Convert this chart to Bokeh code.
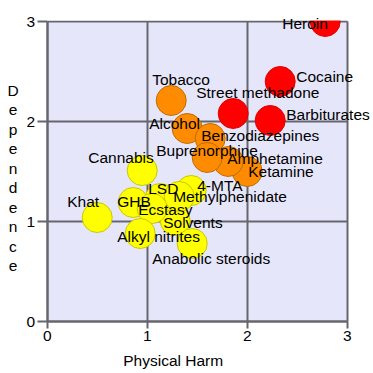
from bokeh.plotting import figure
from bokeh.models import Range1d, FixedTicker, Label, ColumnDataSource, BoxAnnotation
from bokeh.core.properties import value
from bokeh.embed import file_html
from bokeh.resources import INLINE

drugs = ["Heroin", "Cocaine", "Barbiturates", "Street methadone", "Alcohol",
         "Ketamine", "Benzodiazepines", "Amphetamine", "Tobacco", "Buprenorphine",
         "Cannabis", "Solvents", "4-MTA", "LSD", "Methylphenidate",
         "Anabolic steroids", "GHB", "Ecstasy", "Alkyl nitrites", "Khat"]
physical_harm = [2.78, 2.33, 2.23, 1.86, 1.40,
                 2.00, 1.63, 1.81, 1.24, 1.60,
                 0.95, 1.28, 1.44, 1.13, 1.32,
                 1.45, 0.86, 1.05, 0.93, 0.50]
dependence = [3.00, 2.40, 2.01, 2.08, 1.93,
              1.50, 1.83, 1.60, 2.21, 1.64,
              1.51, 1.01, 1.31, 1.23, 1.25,
              0.78, 1.19, 1.13, 0.88, 1.04]
harm_class = ["high", "high", "high", "high", "mid",
              "mid", "mid", "mid", "mid", "mid",
              "low", "low", "low", "low", "low",
              "low", "low", "low", "low", "low"]
ticks = [0, 1, 2, 3]
x_title = "Physical Harm"
y_title = "Dependence"

# styling (not data)
fill_map = {"high": "#FF0000", "mid": "#FF8C00", "low": "#FFFF00"}
line_map = {"high": "#E00000", "mid": "#C06A00", "low": "#C8C800"}
label_dx = {"Heroin": -43, "Cocaine": 16, "Barbiturates": 16, "Street methadone": -37,
            "Alcohol": -38, "Ketamine": 1, "Benzodiazepines": -9, "Amphetamine": -1,
            "Tobacco": -19, "Buprenorphine": -51, "Cannabis": -54, "Solvents": -12,
            "4-MTA": 6, "LSD": -12, "Methylphenidate": -6, "Anabolic steroids": -40,
            "GHB": -16, "Ecstasy": -14, "Alkyl nitrites": -23, "Khat": -30}
label_dy = {"Heroin": 2, "Cocaine": -5, "Barbiturates": -6, "Street methadone": -21,
            "Alcohol": -5, "Ketamine": 0, "Benzodiazepines": -3, "Amphetamine": -3,
            "Tobacco": -21, "Buprenorphine": -7, "Cannabis": -13, "Solvents": 2,
            "4-MTA": -5, "LSD": -10, "Methylphenidate": 0, "Anabolic steroids": 15,
            "GHB": -1, "Ecstasy": 1, "Alkyl nitrites": 3, "Khat": -16}

src = ColumnDataSource(dict(
    name=drugs, x=physical_harm, y=dependence,
    fill=[fill_map[c] for c in harm_class],
    line=[line_map[c] for c in harm_class],
    dx=[label_dx[d] for d in drugs],
    dy=[label_dy[d] for d in drugs],
))

GRAY = "#66666E"
FONT = "Liberation Sans"
FS = "15.5px"
lo, hi = ticks[0], ticks[-1]

# frame covers the whole canvas; 100 px per unit, plot box 0..3 placed as in the reference
p = figure(width=373, height=373,
           x_range=Range1d(-0.467, 3.263), y_range=Range1d(-0.52, 3.21),
           output_backend="svg", toolbar_location=None,
           min_border_left=0, min_border_right=0, min_border_top=0, min_border_bottom=0,
           background_fill_color="white", border_fill_color="white")
p.outline_line_color = None

# lavender plotting area
p.add_layout(BoxAnnotation(left=lo, right=hi, bottom=lo, top=hi,
                           fill_color="#E6E6FA", fill_alpha=1.0,
                           line_color=None, level="image"))

for ax in (p.xaxis[0], p.yaxis[0]):
    ax.ticker = FixedTicker(ticks=ticks)
    ax.fixed_location = 0
    ax.bounds = (lo, hi)
    ax.axis_line_color = GRAY
    ax.axis_line_width = 2
    ax.major_tick_line_color = GRAY
    ax.major_tick_line_width = 2
    ax.major_tick_in = 0
    ax.minor_tick_line_color = None
    ax.major_label_text_font = FONT
    ax.major_label_text_font_size = FS
    ax.major_label_text_color = "black"
p.xaxis.major_tick_out = 7
p.xaxis.major_label_standoff = 2
p.yaxis.major_tick_out = 10
p.yaxis.major_label_standoff = 2

use_grid = all("cross_bounds" in g.properties() for g in (p.xgrid[0], p.ygrid[0]))
for g in (p.xgrid[0], p.ygrid[0]):
    g.ticker = FixedTicker(ticks=ticks)
    if use_grid:
        g.cross_bounds = (lo, hi)
        g.bounds = (lo, hi)
        g.grid_line_color = GRAY
        g.grid_line_width = 2
    else:
        g.grid_line_color = None
if not use_grid:
    p.segment(x0=ticks, y0=[lo] * len(ticks), x1=ticks, y1=[hi] * len(ticks),
              line_color=GRAY, line_width=2, level="underlay")
    p.segment(x0=[lo] * len(ticks), y0=ticks, x1=[hi] * len(ticks), y1=ticks,
              line_color=GRAY, line_width=2, level="underlay")

p.scatter(x="x", y="y", size=30, fill_color="fill", line_color="line",
          line_width=1, source=src)

# clip the circles at the top edge of the plotting box, as in the reference
p.add_layout(BoxAnnotation(left=lo, right=hi, bottom=hi + 0.01, top=None,
                           fill_color="white", fill_alpha=1.0, line_color=None,
                           level="annotation"))

p.text(x="x", y="y", text="name", x_offset="dx", y_offset="dy",
       text_font=value(FONT), text_font_size=FS, text_color="black",
       text_align="left", text_baseline="alphabetic", source=src, level="overlay")

p.add_layout(Label(x=1.26, y=-0.39, text=x_title, text_align="center",
                   text_baseline="alphabetic", text_font=FONT, text_font_size=FS,
                   text_color="black"))
p.add_layout(Label(x=-0.342, y=2.40, text="\n".join(y_title), text_align="center",
                   text_baseline="top", text_font=FONT, text_font_size=FS,
                   text_line_height=1.15, text_color="black"))

open("out.html", "w").write(file_html(p, INLINE))
